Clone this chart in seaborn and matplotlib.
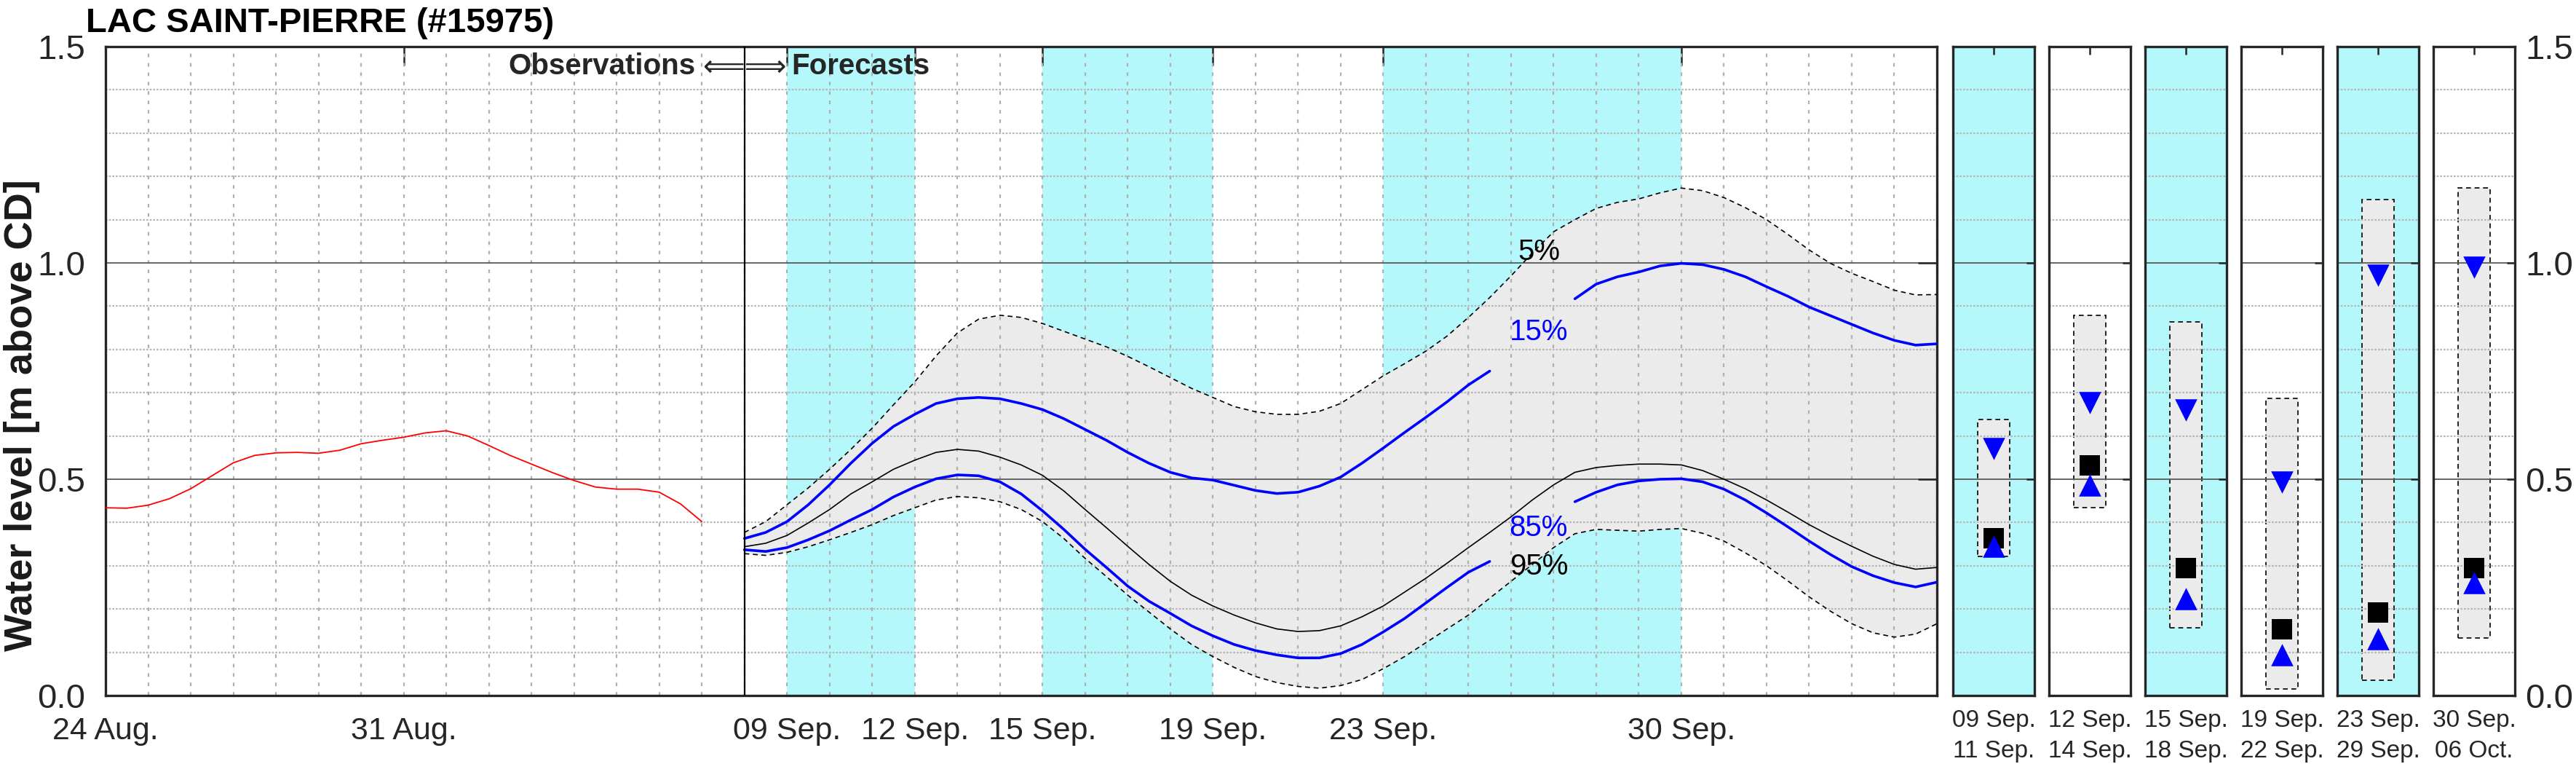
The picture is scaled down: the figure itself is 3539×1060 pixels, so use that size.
import numpy as np
import seaborn as sns
import matplotlib.pyplot as plt
from matplotlib.patches import Rectangle
from matplotlib.ticker import MultipleLocator, FixedLocator, FormatStrFormatter

# ----------------------------------------
# Data (x = days counted from 24 Aug., axis runs to 06 Oct.)
# ----------------------------------------
obs_days = np.arange(0, 14.5, 0.5)
obs_level = [0.434, 0.433, 0.440, 0.455, 0.478, 0.508, 0.538, 0.555, 0.561, 0.562,
             0.560, 0.567, 0.582, 0.590, 0.597, 0.607, 0.612, 0.600, 0.578, 0.555,
             0.535, 0.515, 0.497, 0.482, 0.477, 0.477, 0.470, 0.443, 0.402]

fc_days = np.arange(15, 43.5, 0.5)
nan = np.nan
q05 = [0.377, 0.402, 0.441, 0.480, 0.523, 0.569, 0.618, 0.672, 0.725, 0.785,
       0.838, 0.870, 0.879, 0.874, 0.860, 0.842, 0.824, 0.806, 0.784, 0.760,
       0.735, 0.710, 0.689, 0.668, 0.656, 0.650, 0.650, 0.657, 0.675, 0.707,
       0.739, 0.767, 0.796, 0.831, 0.874, 0.920, 0.970, 1.023, 1.072, 1.100,
       1.126, 1.140, 1.148, 1.162, 1.173, 1.167, 1.151, 1.128, 1.100, 1.066,
       1.030, 0.999, 0.976, 0.957, 0.937, 0.926, 0.927]
q15 = [0.363, 0.377, 0.402, 0.441, 0.487, 0.537, 0.583, 0.622, 0.650, 0.675,
       0.686, 0.689, 0.686, 0.675, 0.661, 0.640, 0.615, 0.590, 0.562, 0.537,
       0.516, 0.503, 0.498, 0.486, 0.474, 0.467, 0.470, 0.484, 0.505, 0.537,
       0.572, 0.608, 0.643, 0.679, 0.718, 0.750, nan, nan, nan, 0.917,
       0.951, 0.968, 0.979, 0.993, 0.999, 0.996, 0.985, 0.968, 0.945, 0.923,
       0.898, 0.878, 0.858, 0.838, 0.821, 0.810, 0.813]
q50 = [0.344, 0.352, 0.370, 0.399, 0.430, 0.466, 0.494, 0.523, 0.544, 0.562,
       0.569, 0.565, 0.551, 0.533, 0.509, 0.473, 0.430, 0.388, 0.345, 0.303,
       0.264, 0.232, 0.207, 0.186, 0.168, 0.154, 0.148, 0.150, 0.161, 0.182,
       0.207, 0.239, 0.271, 0.306, 0.342, 0.377, 0.413, 0.452, 0.487, 0.516,
       0.527, 0.532, 0.535, 0.535, 0.533, 0.520, 0.500, 0.478, 0.452, 0.424,
       0.395, 0.369, 0.345, 0.322, 0.303, 0.292, 0.296]
q85 = [0.337, 0.333, 0.342, 0.360, 0.381, 0.406, 0.430, 0.459, 0.482, 0.501,
       0.510, 0.508, 0.494, 0.466, 0.427, 0.384, 0.338, 0.296, 0.253, 0.218,
       0.190, 0.161, 0.138, 0.118, 0.104, 0.094, 0.087, 0.087, 0.097, 0.118,
       0.147, 0.178, 0.214, 0.250, 0.285, 0.310, nan, nan, nan, 0.448,
       0.470, 0.487, 0.496, 0.500, 0.501, 0.494, 0.477, 0.452, 0.422, 0.390,
       0.357, 0.326, 0.298, 0.277, 0.261, 0.251, 0.262]
q95 = [0.328, 0.324, 0.331, 0.344, 0.360, 0.377, 0.395, 0.416, 0.434, 0.452,
       0.460, 0.457, 0.448, 0.430, 0.402, 0.363, 0.317, 0.275, 0.232, 0.193,
       0.154, 0.118, 0.090, 0.065, 0.044, 0.030, 0.021, 0.017, 0.023, 0.037,
       0.062, 0.090, 0.122, 0.154, 0.186, 0.225, 0.264, 0.303, 0.342, 0.374,
       0.384, 0.382, 0.380, 0.384, 0.386, 0.375, 0.357, 0.330, 0.300, 0.265,
       0.228, 0.195, 0.166, 0.145, 0.135, 0.142, 0.166]

forecast_start = 15          # 08 Sep.
tick_days = [0, 7, 16, 19, 22, 26, 30, 37]
tick_labels = ["24 Aug.", "31 Aug.", "09 Sep.", "12 Sep.", "15 Sep.",
               "19 Sep.", "23 Sep.", "30 Sep."]
shaded_periods = [(16, 19), (22, 26), (30, 37)]

# summary panels per period
period_labels = ["09 Sep.\n11 Sep.", "12 Sep.\n14 Sep.", "15 Sep.\n18 Sep.",
                 "19 Sep.\n22 Sep.", "23 Sep.\n29 Sep.", "30 Sep.\n06 Oct."]
period_shaded = [True, False, True, False, True, False]
box_low = [0.321, 0.434, 0.157, 0.015, 0.035, 0.133]
box_high = [0.638, 0.878, 0.864, 0.687, 1.147, 1.174]
tri_down = [0.570, 0.677, 0.660, 0.493, 0.972, 0.990]
square_val = [0.363, 0.532, 0.295, 0.153, 0.192, 0.295]
tri_up = [0.345, 0.487, 0.224, 0.095, 0.131, 0.261]

# ----------------------------------------
# Style
# ----------------------------------------
sns.set_theme(style="white")
plt.rcParams["font.family"] = ["Liberation Sans", "DejaVu Sans"]

CYAN = "#b4f8fb"
BAND = "#ebebeb"
SPINE = "#262626"
W, H = 3539, 1060


def style_grid(ax, vertical=True):
    ax.set_axisbelow("line")
    ax.yaxis.set_major_locator(FixedLocator([0, 0.5, 1.0, 1.5]))
    ax.yaxis.set_minor_locator(MultipleLocator(0.1))
    ax.yaxis.grid(True, which="major", color="#5a5a5a", lw=1.3, ls="-")
    ax.yaxis.grid(True, which="minor", color="#b8b8b8", lw=1.6, ls=(0, (1.2, 0.9)))
    if vertical:
        ax.xaxis.set_minor_locator(MultipleLocator(1))
        ax.xaxis.remove_overlapping_locs = False
        ax.xaxis.grid(True, which="minor", color="#b0b0b0", lw=1.6, ls=(0, (2.2, 3.6)))
        ax.xaxis.grid(False, which="major")
    for s in ax.spines.values():
        s.set_color(SPINE)
        s.set_linewidth(2.4)


def draw_curve(ax, x, y, **kw):
    x = np.asarray(x)
    y = np.asarray(y, dtype=float)
    ok = ~np.isnan(y)
    edges = np.flatnonzero(np.diff(np.r_[0, ok.astype(int), 0]))
    for a, b in zip(edges[::2], edges[1::2]):
        sns.lineplot(x=x[a:b], y=y[a:b], ax=ax, sort=False, estimator=None, **kw)


fig = plt.figure(figsize=(W / 100, H / 100), dpi=100)

# ----------------------------------------
# Main time series axes
# ----------------------------------------
ax = fig.add_axes([145 / W, 105 / H, (2661 - 145) / W, (955 - 64) / H])
ax.set_xlim(0, 43)
ax.set_ylim(0, 1.5)
style_grid(ax)

for a, b in shaded_periods:
    ax.axvspan(a, b, color=CYAN, lw=0, zorder=0)
ax.fill_between(fc_days, q95, q05, color=BAND, lw=0, zorder=0.5)

draw_curve(ax, obs_days, obs_level, color="#ff0000", lw=1.3, zorder=3)
draw_curve(ax, fc_days, q05, color="black", lw=1.2, linestyle=(0, (4, 3)), zorder=3)
draw_curve(ax, fc_days, q95, color="black", lw=1.2, linestyle=(0, (4, 3)), zorder=3)
draw_curve(ax, fc_days, q50, color="black", lw=1.2, zorder=3)
draw_curve(ax, fc_days, q15, color="#0000ff", lw=2.6, zorder=4)
draw_curve(ax, fc_days, q85, color="#0000ff", lw=2.6, zorder=4)

ax.axvline(forecast_start, color="black", lw=1.6, zorder=5)

pct_x = 33.65
ax.text(pct_x, 1.026, "5%", color="black", fontsize=29, ha="center", va="center", zorder=6)
ax.text(pct_x, 0.840, "15%", color="#0000ff", fontsize=29, ha="center", va="center", zorder=6)
ax.text(pct_x, 0.388, "85%", color="#0000ff", fontsize=29, ha="center", va="center", zorder=6)
ax.text(pct_x, 0.298, "95%", color="black", fontsize=29, ha="center", va="center", zorder=6)

ax.text(forecast_start - 1.15, 1.455, "Observations", fontsize=29, fontweight="bold",
        ha="right", va="center", zorder=6)
ax.text(forecast_start, 1.452, "\u27f8\u27f9", fontsize=29, family=["DejaVu Sans"],
        ha="center", va="center", zorder=6)
ax.text(forecast_start + 1.1, 1.455, "Forecasts", fontsize=29, fontweight="bold",
        ha="left", va="center", zorder=6)

ax.set_xticks(tick_days)
ax.set_xticklabels(tick_labels)
ax.yaxis.set_major_formatter(FormatStrFormatter("%.1f"))
ax.tick_params(which="major", direction="in", length=19, width=1.8, top=True,
               right=True, colors=SPINE, labelcolor=SPINE)
ax.tick_params(axis="x", which="major", labelsize=31, pad=21)
ax.tick_params(axis="y", which="major", labelsize=34, pad=20)
ax.tick_params(which="minor", length=0)
ax.set_xlabel("")
ax.set_ylabel("")

fig.text(118 / W, 1 - 44 / H, "LAC SAINT-PIERRE (#15975)", fontsize=34,
         fontweight="bold", ha="left", va="baseline", color="black")
fig.text(30 / W, 1 - 570 / H, "Water level [m above CD]", fontsize=39,
         fontweight="bold", rotation=90, ha="center", va="center", color="#1a1a1a")

# ----------------------------------------
# Period summary panels
# ----------------------------------------
for i, lab in enumerate(period_labels):
    left = 2683 + i * 132
    pax = fig.add_axes([left / W, 105 / H, 112 / W, (955 - 64) / H])
    pax.set_xlim(-1, 1)
    pax.set_ylim(0, 1.5)
    if period_shaded[i]:
        pax.set_facecolor(CYAN)
    style_grid(pax, vertical=False)
    pax.add_patch(Rectangle((-0.4, box_low[i]), 0.8, box_high[i] - box_low[i],
                            facecolor=BAND, edgecolor="black", lw=1.2,
                            linestyle=(0, (4, 3)), zorder=1))
    sns.scatterplot(x=[0], y=[square_val[i]], marker="s", s=20 ** 2, color="black",
                    linewidth=0, ax=pax, zorder=4)
    sns.scatterplot(x=[0], y=[tri_down[i]], marker="v", s=22 ** 2, color="#0000ff",
                    linewidth=0, ax=pax, zorder=5)
    sns.scatterplot(x=[0], y=[tri_up[i]], marker="^", s=22 ** 2, color="#0000ff",
                    linewidth=0, ax=pax, zorder=5)
    pax.set_xticks([0])
    pax.set_xticklabels([lab], linespacing=1.45)
    pax.tick_params(which="major", direction="in", length=8, width=1.8, top=True,
                    right=True, colors=SPINE, labelcolor=SPINE)
    pax.tick_params(axis="x", labelsize=24, pad=14)
    pax.tick_params(which="minor", length=0)
    pax.yaxis.set_major_formatter(FormatStrFormatter("%.1f"))
    last = i == len(period_labels) - 1
    pax.tick_params(axis="y", labelleft=False, labelright=last, labelsize=34, pad=10)
    pax.set_xlabel("")
    pax.set_ylabel("")

fig.savefig("out.png", dpi=100)
